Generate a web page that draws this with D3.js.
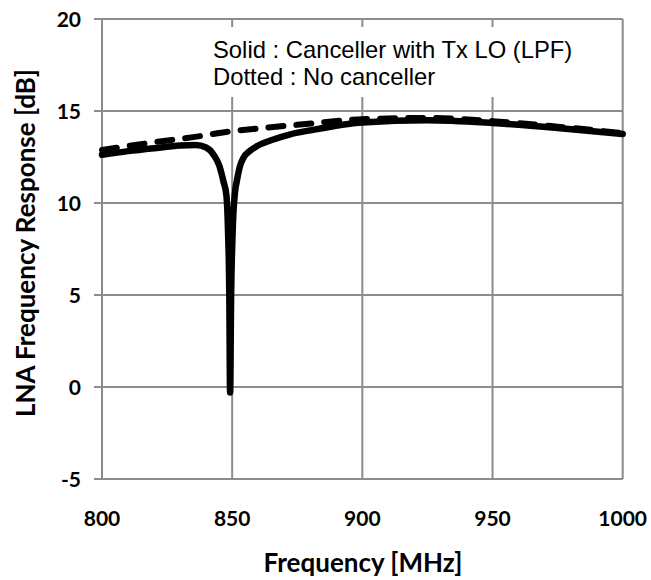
<!DOCTYPE html>
<html><head><meta charset="utf-8">
<script src="https://cdn.jsdelivr.net/npm/d3@7"></script>
<style>body{margin:0;background:#fff}</style>
</head><body>
<svg id="c" width="651" height="580"></svg>
<script>
const xTicks = [800, 850, 900, 950, 1000];
const yTicks = [-5, 0, 5, 10, 15, 20];
const legendLines = ["Solid : Canceller with Tx LO (LPF)", "Dotted : No canceller"];
const xTitle = "Frequency [MHz]";
const yTitle = "LNA Frequency Response [dB]";

// Solid: canceller with Tx LO (LPF)
const solidFreq = [800, 810, 820, 830, 836, 840, 843, 845, 846.6, 847.8, 848.4, 848.9, 849.2, 849.6, 850.2, 851.1, 851.8, 853, 854.3, 857, 859.4, 865.8, 872, 880, 900, 925, 950, 975, 1000];
const solidGain = [12.62, 12.82, 12.98, 13.12, 13.15, 13.02, 12.6, 12.05, 11.2, 10.4, 8.5, 5, -0.3, 5, 8.5, 10.6, 11.2, 12.0, 12.45, 12.85, 13.08, 13.45, 13.72, 13.95, 14.38, 14.5, 14.35, 14.08, 13.75];
// Dotted: no canceller
const dashFreq = [800, 810, 820, 835, 850, 860, 875, 900, 925, 950, 975, 1000];
const dashGain = [12.88, 13.1, 13.3, 13.58, 13.9, 14.05, 14.25, 14.55, 14.62, 14.45, 14.15, 13.8];

const svg = d3.select("#c");
const L = 102, R = 622.7, T = 19, B = 479;
const x = d3.scaleLinear().domain([800, 1000]).range([L, R]);
const y = d3.scaleLinear().domain([-5, 20]).range([B, T]);
const grid = "#8c8c8c";

const g = svg.append("g");
g.selectAll("line.h").data(yTicks).join("line")
  .attr("x1", L - 8).attr("x2", R).attr("y1", d => y(d)).attr("y2", d => y(d))
  .attr("stroke", grid).attr("stroke-width", 2);
g.selectAll("line.v").data(xTicks).join("line")
  .attr("x1", d => x(d)).attr("x2", d => x(d)).attr("y1", T).attr("y2", B)
  .attr("stroke", grid).attr("stroke-width", 2);

// legend box (white, covers grid)
svg.append("rect").attr("x", 205).attr("y", 27).attr("width", 385).attr("height", 70).attr("fill", "#fff");
svg.selectAll("text.leg").data(legendLines).join("text")
  .attr("x", 213).attr("y", (d, i) => 57.5 + i * 27.5)
  .attr("font-family", "Liberation Sans, Arial, sans-serif").attr("font-size", 23.8)
  .attr("fill", "#000").text(d => d);

// lines
const dashData = dashFreq.map((f, i) => [f, dashGain[i]]);
const solidData = solidFreq.map((f, i) => [f, solidGain[i]]);
const line = d3.line().x(d => x(d[0])).y(d => y(d[1])).curve(d3.curveMonotoneX);
svg.append("path").attr("d", line(dashData)).attr("fill", "none").attr("stroke", "#000")
  .attr("stroke-width", 6).attr("stroke-dasharray", "15,13").attr("stroke-linecap", "round");
svg.append("path").attr("d", line(solidData)).attr("fill", "none").attr("stroke", "#000")
  .attr("stroke-width", 6.5).attr("stroke-linecap", "round").attr("stroke-linejoin", "round");

// tick labels
const tf = "Lato, 'Open Sans', sans-serif";
svg.selectAll("text.yt").data(yTicks).join("text")
  .attr("x", 81).attr("y", d => y(d)).attr("dy", "0.36em").attr("text-anchor", "end")
  .attr("font-family", tf).attr("font-weight", "bold").attr("font-size", 21).text(d => d);
svg.selectAll("text.xt").data(xTicks).join("text")
  .attr("x", d => x(d)).attr("y", 526).attr("text-anchor", "middle")
  .attr("font-family", tf).attr("font-weight", "bold").attr("font-size", 21).text(d => d);

// axis titles
svg.append("text").attr("x", 363).attr("y", 571.5).attr("text-anchor", "middle")
  .attr("font-family", tf).attr("font-weight", "bold").attr("font-size", 26).text(xTitle);
svg.append("text").attr("transform", "translate(35,243) rotate(-90)").attr("text-anchor", "middle")
  .attr("font-family", tf).attr("font-weight", "bold").attr("font-size", 26).text(yTitle);
</script>
</body></html>
